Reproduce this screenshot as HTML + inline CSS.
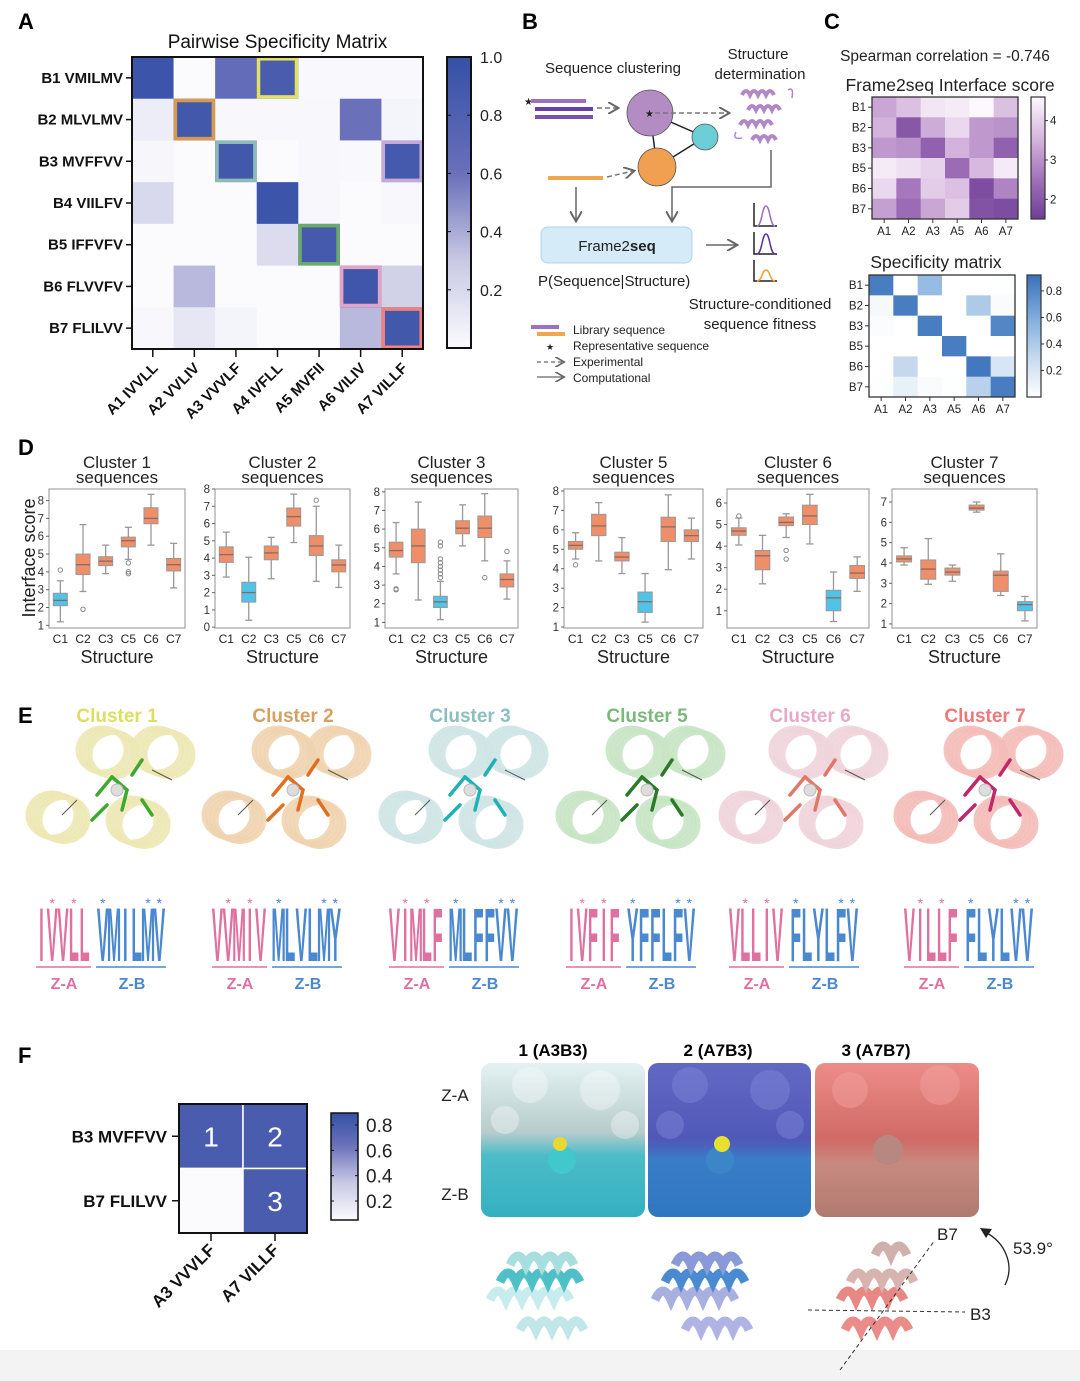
<!DOCTYPE html>
<html><head><meta charset="utf-8">
<style>
html,body{margin:0;padding:0;background:#fff;}
svg{display:block;font-family:"Liberation Sans",sans-serif;}
</style></head>
<body>
<svg id="fig" width="1080" height="1381" viewBox="0 0 1080 1381" xmlns="http://www.w3.org/2000/svg">
<defs>
<linearGradient id="gA" x1="0" y1="1" x2="0" y2="0"><stop offset="0" stop-color="#fbfbfe"/><stop offset="0.3" stop-color="#c8c8e4"/><stop offset="0.6" stop-color="#6a70ba"/><stop offset="1" stop-color="#3550a6"/></linearGradient>
<linearGradient id="gCt" x1="0" y1="0" x2="0" y2="1"><stop offset="0" stop-color="#fdf8fd"/><stop offset="0.35" stop-color="#d4b4dc"/><stop offset="0.68" stop-color="#a070b8"/><stop offset="1" stop-color="#6e3e98"/></linearGradient>
<linearGradient id="gCb" x1="0" y1="1" x2="0" y2="0"><stop offset="0" stop-color="#ffffff"/><stop offset="0.33" stop-color="#c4d8ee"/><stop offset="0.6" stop-color="#8ab4e0"/><stop offset="1" stop-color="#3a70ba"/></linearGradient>
<linearGradient id="gF" x1="0" y1="1" x2="0" y2="0"><stop offset="0" stop-color="#fbfbfe"/><stop offset="0.35" stop-color="#c8c8e4"/><stop offset="0.7" stop-color="#6a70ba"/><stop offset="1" stop-color="#3550a6"/></linearGradient>
<linearGradient id="img1" x1="0" y1="0" x2="0" y2="1"><stop offset="0" stop-color="#e4f2f2"/><stop offset="0.45" stop-color="#b8cccc"/><stop offset="0.6" stop-color="#4cbcc8"/><stop offset="1" stop-color="#34b0c0"/></linearGradient>
<linearGradient id="img2" x1="0" y1="0" x2="0" y2="1"><stop offset="0" stop-color="#6268c4"/><stop offset="0.5" stop-color="#5058b8"/><stop offset="0.62" stop-color="#3a7cc8"/><stop offset="1" stop-color="#2e78c0"/></linearGradient>
<linearGradient id="img3" x1="0" y1="0" x2="0" y2="1"><stop offset="0" stop-color="#ec8c88"/><stop offset="0.5" stop-color="#d06a66"/><stop offset="0.65" stop-color="#c88a80"/><stop offset="1" stop-color="#b07a70"/></linearGradient>
<marker id="arr" markerWidth="8" markerHeight="8" refX="6" refY="4" orient="auto"><path d="M0,0 L7,4 L0,8" fill="none" stroke="#666" stroke-width="1.3"/></marker>
</defs>
<rect x="0" y="1350" width="1080" height="31" fill="#f3f3f3"/>

<g font-weight="bold" font-size="22" fill="#000">
<text x="18" y="29">A</text>
<text x="522" y="29">B</text>
<text x="824" y="29">C</text>
<text x="18" y="455">D</text>
<text x="18" y="723">E</text>
<text x="18" y="1063">F</text>
</g>

<g fill="#222" font-size="15">
<text x="613" y="73" text-anchor="middle">Sequence clustering</text>
<text x="758" y="59" text-anchor="middle">Structure</text>
<text x="760" y="79" text-anchor="middle">determination</text>
<text x="524" y="105" font-size="10">★</text>
<line x1="531" y1="101" x2="586" y2="101" stroke="#a070c0" stroke-width="4"/>
<line x1="535" y1="109" x2="593" y2="109" stroke="#6a40a8" stroke-width="4"/>
<line x1="535" y1="117" x2="593" y2="117" stroke="#7a50b0" stroke-width="4"/>
<line x1="597" y1="108" x2="617" y2="108" stroke="#777" stroke-width="1.5" stroke-dasharray="5,3" marker-end="url(#arr)"/>
<line x1="650" y1="113" x2="705" y2="137" stroke="#222" stroke-width="1.5"/>
<line x1="650" y1="113" x2="657" y2="167" stroke="#222" stroke-width="1.5"/>
<line x1="705" y1="137" x2="657" y2="167" stroke="#222" stroke-width="1.5"/>
<circle cx="650" cy="113" r="23" fill="#b48cc4" stroke="#555" stroke-width="0.8"/>
<circle cx="705" cy="137" r="13" fill="#6ccfd8" stroke="#555" stroke-width="0.8"/>
<circle cx="657" cy="167" r="19" fill="#f0a050" stroke="#555" stroke-width="0.8"/>
<text x="645" y="117" font-size="10">★</text>
<line x1="655" y1="113" x2="728" y2="113" stroke="#777" stroke-width="1.5" stroke-dasharray="5,3" marker-end="url(#arr)"/>
<g fill="none" stroke="#b088c8" stroke-width="4">
<path d="M742,95 q4,-8 8,0 q4,-8 8,0 q4,-8 8,0 q4,-8 8,0"/>
<path d="M748,110 q4,-8 8,0 q4,-8 8,0 q4,-8 8,0 q4,-8 8,0"/>
<path d="M740,125 q4,-8 8,0 q4,-8 8,0 q4,-8 8,0 q4,-8 8,0"/>
<path d="M752,140 q4,-8 8,0 q4,-8 8,0 q4,-8 8,0"/>
<path d="M788,90 q6,-4 4,8 M736,132 q-4,8 6,6" stroke-width="1.5"/>
</g>
<line x1="548" y1="178" x2="603" y2="178" stroke="#f0a850" stroke-width="4"/>
<line x1="607" y1="177" x2="633" y2="171" stroke="#777" stroke-width="1.5" stroke-dasharray="5,3" marker-end="url(#arr)"/>
<polyline points="771,150 771,187 672,187 672,220" fill="none" stroke="#666" stroke-width="1.5" marker-end="url(#arr)"/>
<line x1="576" y1="187" x2="576" y2="220" stroke="#666" stroke-width="1.5" marker-end="url(#arr)"/>
<rect x="541" y="227" width="151" height="36" rx="7" fill="#d6ebf8" stroke="#b0d0ea"/>
<text x="617" y="251" text-anchor="middle" font-size="15">Frame2<tspan font-weight="bold">seq</tspan></text>
<text x="538" y="286" font-size="15">P(Sequence|Structure)</text>
<line x1="706" y1="245" x2="736" y2="245" stroke="#666" stroke-width="1.5" marker-end="url(#arr)"/>
<g fill="none" stroke-width="1.5">
<polyline points="754,203 754,226 777,226" stroke="#222"/><path d="M757,226 C762,226 762,206 766,206 C770,206 770,226 775,226" stroke="#a070c0"/>
<polyline points="754,232 754,254 777,254" stroke="#222"/><path d="M757,254 C762,254 762,234 766,234 C770,234 770,254 775,254" stroke="#5a30a0"/>
<polyline points="754,260 754,281 777,281" stroke="#222"/><path d="M757,281 C762,281 762,270 766,270 C770,270 770,281 775,281" stroke="#f0a030"/>
</g>
<text x="760" y="309" text-anchor="middle">Structure-conditioned</text>
<text x="760" y="329" text-anchor="middle">sequence fitness</text>
<g font-size="12">
<line x1="531" y1="327" x2="559" y2="327" stroke="#a070c0" stroke-width="4"/>
<line x1="537" y1="334" x2="565" y2="334" stroke="#f0a850" stroke-width="4"/>
<text x="573" y="334">Library sequence</text>
<text x="546" y="350" font-size="9">★</text>
<text x="573" y="350">Representative sequence</text>
<line x1="537" y1="362" x2="563" y2="362" stroke="#666" stroke-width="1.3" stroke-dasharray="4,3" marker-end="url(#arr)"/>
<text x="573" y="366">Experimental</text>
<line x1="537" y1="377" x2="563" y2="377" stroke="#666" stroke-width="1.3" marker-end="url(#arr)"/>
<text x="573" y="382">Computational</text>
</g>
</g>

<g font-size="17">
<text x="553" y="1056" text-anchor="middle" font-weight="bold">1 (A3B3)</text>
<text x="718" y="1056" text-anchor="middle" font-weight="bold">2 (A7B3)</text>
<text x="876" y="1056" text-anchor="middle" font-weight="bold">3 (A7B7)</text>
<text x="455" y="1101" text-anchor="middle" fill="#222">Z-A</text>
<text x="455" y="1200" text-anchor="middle" fill="#222">Z-B</text>
<rect x="481" y="1063" width="164" height="154" rx="10" fill="url(#img1)"/>
<g fill="#ffffff" opacity="0.35"><circle cx="530" cy="1085" r="18"/><circle cx="600" cy="1090" r="20"/><circle cx="505" cy="1120" r="14"/><circle cx="625" cy="1125" r="14"/></g>
<circle cx="562" cy="1160" r="14" fill="#40c8cc"/>
<circle cx="560" cy="1144" r="7" fill="#e8d830"/>
<rect x="648" y="1063" width="163" height="154" rx="10" fill="url(#img2)"/>
<g fill="#8088d8" opacity="0.45"><circle cx="690" cy="1085" r="18"/><circle cx="770" cy="1090" r="20"/><circle cx="670" cy="1125" r="14"/><circle cx="790" cy="1125" r="14"/></g>
<circle cx="720" cy="1160" r="14" fill="#3a86c8"/>
<circle cx="722" cy="1144" r="8" fill="#e8e030"/>
<rect x="815" y="1063" width="164" height="154" rx="10" fill="url(#img3)"/>
<g fill="#f4a4a0" opacity="0.45"><circle cx="850" cy="1090" r="18"/><circle cx="940" cy="1085" r="20"/></g>
<circle cx="888" cy="1150" r="15" fill="#b88880"/>
<g fill="none" stroke-width="9">
<path d="M490,1300 q8,-18 16,0 q8,-18 16,0 q8,-18 16,0 q8,-18 16,0 q8,-18 16,0" stroke="#c8ecec"/>
<path d="M500,1282 q8,-18 16,0 q8,-18 16,0 q8,-18 16,0 q8,-18 16,0 q8,-18 16,0" stroke="#50c0c8"/>
<path d="M510,1265 q8,-18 16,0 q8,-18 16,0 q8,-18 16,0 q8,-18 16,0" stroke="#a8dede"/>
<path d="M520,1330 q8,-18 16,0 q8,-18 16,0 q8,-18 16,0 q8,-18 16,0" stroke="#c0e6e8"/>
<path d="M655,1300 q8,-18 16,0 q8,-18 16,0 q8,-18 16,0 q8,-18 16,0 q8,-18 16,0" stroke="#a8b0e0"/>
<path d="M665,1282 q8,-18 16,0 q8,-18 16,0 q8,-18 16,0 q8,-18 16,0 q8,-18 16,0" stroke="#4a8ad0"/>
<path d="M675,1265 q8,-18 16,0 q8,-18 16,0 q8,-18 16,0 q8,-18 16,0" stroke="#8a9ad8"/>
<path d="M685,1330 q8,-18 16,0 q8,-18 16,0 q8,-18 16,0 q8,-18 16,0" stroke="#b0b4e4"/>
<path d="M840,1300 q8,-18 16,0 q8,-18 16,0 q8,-18 16,0 q8,-18 16,0" stroke="#e88884"/>
<path d="M850,1282 q8,-18 16,0 q8,-18 16,0 q8,-18 16,0 q8,-18 16,0" stroke="#d8b4b0"/>
<path d="M845,1330 q8,-18 16,0 q8,-18 16,0 q8,-18 16,0 q8,-18 16,0" stroke="#ec8c88"/>
<path d="M875,1255 q8,-18 16,0 q8,-18 16,0" stroke="#d0b0ac"/>
</g>
<line x1="808" y1="1310" x2="965" y2="1312" stroke="#333" stroke-width="1" stroke-dasharray="4,3"/>
<line x1="840" y1="1370" x2="935" y2="1240" stroke="#333" stroke-width="1" stroke-dasharray="4,3"/>
<text x="937" y="1240" fill="#222">B7</text>
<text x="970" y="1320" fill="#222">B3</text>
<path d="M1005,1285 C1015,1265 1005,1242 985,1232" fill="none" stroke="#222" stroke-width="1.3"/>
<path d="M980,1228 L992,1229 L986,1238 Z" fill="#222"/>
<text x="1013" y="1254" fill="#222">53.9°</text>
</g>
</svg>

<script>
const NS='http://www.w3.org/2000/svg';
const svg=document.getElementById('fig');
function mk(tag,attrs,name,parent){
  const e=document.createElementNS(NS,tag);
  for(const k in attrs) e.setAttribute(k,attrs[k]);
  
  
  (parent||svg).appendChild(e);
  return e;
}
function txt(x,y,s,attrs,name,parent){const e=mk('text',Object.assign({x:x,y:y},attrs||{}),name,parent);e.textContent=s;return e;}
function hex(c){return [1,3,5].map(i=>parseInt(c.substr(i,2),16));}
function lerpStops(stops,t){t=Math.max(0,Math.min(1,t));for(let i=1;i<stops.length;i++){if(t<=stops[i][0]){const a=stops[i-1],b=stops[i];const u=(t-a[0])/(b[0]-a[0]);const ca=hex(a[1]),cb=hex(b[1]);return 'rgb('+ca.map((v,k)=>Math.round(v+(cb[k]-v)*u)).join(',')+')';}}return stops[stops.length-1][1];}

/* ---------- Panel A ---------- */
const aRows=['B1 VMILMV','B2 MLVLMV','B3 MVFFVV','B4 VIILFV','B5 IFFVFV','B6 FLVVFV','B7 FLILVV'];
const aCols=['A1 IVVLL','A2 VVLIV','A3 VVVLF','A4 IVFLL','A5 MVFII','A6 VILIV','A7 VILLF'];
const aVals=[
 [0.95,0.00,0.65,0.85,0.01,0.01,0.01],
 [0.08,0.90,0.02,0.02,0.02,0.60,0.04],
 [0.03,0.00,0.90,0.00,0.02,0.01,0.88],
 [0.20,0.00,0.00,0.95,0.02,0.00,0.02],
 [0.00,0.00,0.00,0.18,0.88,0.00,0.00],
 [0.00,0.35,0.00,0.00,0.00,0.92,0.25],
 [0.02,0.12,0.04,0.00,0.00,0.35,0.90]];
const aHighlights=[[0,3,'#e2e262'],[1,1,'#d49a50'],[2,2,'#8cbcb8'],[2,6,'#c4aad8'],[4,4,'#6aaa6a'],[5,5,'#e4a4c4'],[6,6,'#f08080']];
const aTicks=[0.2,0.4,0.6,0.8,1.0];
const blueStops=[[0,'#fbfbfe'],[0.3,'#c8c8e4'],[0.6,'#6a70ba'],[1,'#3550a6']];
(function(){
  const X0=132,Y0=57,W=291,H=292,cw=W/7,ch=H/7;
  const g=mk('g',{},'pairwise-specificity-matrix');
  txt(X0+W/2,48,'Pairwise Specificity Matrix',{'text-anchor':'middle','font-size':19,fill:'#111'},'matrix-title',g);
  aVals.forEach((row,i)=>row.forEach((v,j)=>{
    mk('rect',{x:X0+j*cw,y:Y0+i*ch,width:cw+0.5,height:ch+0.5,fill:lerpStops(blueStops,v)},'cell-'+aRows[i].split(' ')[0]+'-'+aCols[j].split(' ')[0],g);
  }));
  aHighlights.forEach(h=>{mk('rect',{x:X0+h[1]*cw+1.8,y:Y0+h[0]*ch+1.8,width:cw-3.6,height:ch-3.6,fill:'none',stroke:h[2],'stroke-width':3.5},'highlight-box',g);});
  mk('rect',{x:X0,y:Y0,width:W,height:H,fill:'none',stroke:'#111','stroke-width':2},'matrix-frame',g);
  aRows.forEach((s,i)=>{const y=Y0+(i+0.5)*ch;
    mk('line',{x1:X0-6,y1:y,x2:X0,y2:y,stroke:'#111','stroke-width':1.5},'y-tick',g);
    txt(X0-9,y+5,s,{'text-anchor':'end','font-size':15,'font-weight':'bold',fill:'#111'},'row-label',g);});
  aCols.forEach((s,j)=>{const x=X0+(j+0.5)*cw;
    mk('line',{x1:x,y1:Y0+H,x2:x,y2:Y0+H+8,stroke:'#111','stroke-width':1.5},'x-tick',g);
    txt(0,0,s,{'text-anchor':'end','font-size':15,'font-weight':'bold',fill:'#111',transform:'translate('+(x+6)+','+(Y0+H+20)+') rotate(-45)'},'col-label',g);});
  const cx=447,cy=57,cwid=24,chgt=291;
  mk('rect',{x:cx,y:cy,width:cwid,height:chgt,fill:'url(#gA)',stroke:'#111','stroke-width':2},'colorbar-a',g);
  aTicks.forEach(t=>{const y=cy+chgt*(1-t);
    if(t<1){mk('line',{x1:cx,y1:y,x2:cx+4,y2:y,stroke:'#111'},'cbar-tick',g);mk('line',{x1:cx+cwid-4,y1:y,x2:cx+cwid,y2:y,stroke:'#111'},'cbar-tick',g);}
    txt(cx+cwid+9,y+6,t.toFixed(1),{'font-size':16,fill:'#222'},'cbar-label',g);});
})();

/* ---------- Panel C ---------- */
const cRows=['B1','B2','B3','B5','B6','B7'];
const cCols=['A1','A2','A3','A5','A6','A7'];
const cScore=[
 [3.3,3.7,4.3,4.4,4.6,3.7],
 [3.5,2.0,3.4,4.1,3.1,3.0],
 [3.1,3.0,2.2,3.5,3.1,2.2],
 [4.4,4.2,4.0,2.4,3.6,4.4],
 [4.1,2.6,3.9,3.7,1.8,2.8],
 [3.2,2.4,3.3,3.9,1.9,1.8]];
const cScoreTicks=[2,3,4];
const cSpec=[
 [0.85,0.00,0.50,0.00,0.00,0.01],
 [0.05,0.85,0.00,0.00,0.40,0.03],
 [0.02,0.00,0.85,0.00,0.00,0.80],
 [0.00,0.00,0.00,0.85,0.00,0.00],
 [0.00,0.30,0.00,0.00,0.88,0.20],
 [0.01,0.12,0.03,0.01,0.35,0.85]];
const cSpecTicks=[0.2,0.4,0.6,0.8];
const purpStops=[[0,'#fdf8fd'],[0.35,'#d4b4dc'],[0.68,'#a070b8'],[1,'#6e3e98']];
const cbStops=[[0,'#ffffff'],[0.33,'#c4d8ee'],[0.6,'#8ab4e0'],[1,'#3a70ba']];
function smallHeat(X0,Y0,W,H,vals,colorFn,name,cb){
  const g=mk('g',{},name);const cw=W/6,ch=H/6;
  vals.forEach((row,i)=>row.forEach((v,j)=>{mk('rect',{x:X0+j*cw,y:Y0+i*ch,width:cw+0.4,height:ch+0.4,fill:colorFn(v)},'cell-'+cRows[i]+'-'+cCols[j],g);}));
  mk('rect',{x:X0,y:Y0,width:W,height:H,fill:'none',stroke:'#333','stroke-width':1.3},'heat-frame',g);
  cRows.forEach((s,i)=>{const y=Y0+(i+0.5)*ch;mk('line',{x1:X0-4,y1:y,x2:X0,y2:y,stroke:'#333'},'y-tick',g);txt(X0-6,y+4,s,{'text-anchor':'end','font-size':11.5,fill:'#222'},'row-label',g);});
  cCols.forEach((s,j)=>{const x=X0+(j+0.5)*cw;mk('line',{x1:x,y1:Y0+H,x2:x,y2:Y0+H+4,stroke:'#333'},'x-tick',g);txt(x,Y0+H+16,s,{'text-anchor':'middle','font-size':11.5,fill:'#222'},'col-label',g);});
  mk('rect',{x:cb.x,y:Y0,width:14,height:H,fill:cb.fill,stroke:'#333','stroke-width':1.2},'colorbar',g);
  cb.ticks.forEach(t=>{const y=cb.yOf(t);mk('line',{x1:cb.x+14,y1:y,x2:cb.x+17,y2:y,stroke:'#333'},'cbar-tick',g);txt(cb.x+19,y+4,cb.fmt(t),{'font-size':11.5,fill:'#222'},'cbar-label',g);});
  return g;
}
txt(945,61,'Spearman correlation = -0.746',{'text-anchor':'middle','font-size':15.5,fill:'#222'},'spearman-label');
txt(950,91,'Frame2seq Interface score',{'text-anchor':'middle','font-size':17.5,fill:'#222'},'frame2seq-score-title');
smallHeat(872,97,146,122,cScore,v=>lerpStops(purpStops,(4.6-v)/3.1),'frame2seq-heatmap',{x:1031,fill:'url(#gCt)',ticks:cScoreTicks,yOf:t=>97+(4.6-t)/3.1*122,fmt:t=>String(t)});
txt(936,268,'Specificity matrix',{'text-anchor':'middle','font-size':17.5,fill:'#222'},'specificity-matrix-title');
smallHeat(869,275,146,122,cSpec,v=>lerpStops(cbStops,v/0.92),'specificity-heatmap',{x:1027,fill:'url(#gCb)',ticks:cSpecTicks,yOf:t=>397-t/0.92*122,fmt:t=>t.toFixed(1)});

/* ---------- Panel D ---------- */
const dStructs=['C1','C2','C3','C5','C6','C7'];
const dTitles=['Cluster 1','Cluster 2','Cluster 3','Cluster 5','Cluster 6','Cluster 7'];
const dBoxes1=[[1.2,2.1,2.4,2.8,3.5],[2.9,3.85,4.4,5.0,6.65],[3.9,4.35,4.6,4.85,5.5],[4.7,5.4,5.75,5.95,6.5],[5.5,6.7,7.0,7.6,8.35],[3.1,4.05,4.4,4.75,5.6]];
const dOut1=[[4.1],[1.9],[],[4.5,4.0,3.9],[],[]];
const dBoxes2=[[2.9,3.75,4.2,4.65,5.5],[0.4,1.45,2.0,2.6,4.05],[2.8,3.9,4.3,4.7,5.2],[4.9,5.85,6.4,6.9,7.7],[2.65,4.15,4.7,5.3,7.0],[2.3,3.2,3.6,3.9,4.75]];
const dOut2=[[],[],[],[],[7.35],[]];
const dBoxes3=[[3.6,4.5,4.85,5.3,6.35],[2.2,4.2,5.1,6.0,7.45],[1.15,1.8,2.1,2.4,3.2],[5.1,5.75,6.05,6.45,7.3],[4.3,5.55,6.05,6.7,7.9],[2.25,2.9,3.3,3.6,4.3]];
const dOut3=[[2.8,2.75],[],[3.4,3.6,3.8,4.0,4.2,4.4,5.1,5.3],[],[3.4],[4.8]];
const dBoxes5=[[4.5,5.0,5.2,5.4,5.85],[4.4,5.7,6.2,6.8,7.4],[3.75,4.4,4.6,4.85,5.6],[1.25,1.75,2.3,2.8,3.75],[3.95,5.4,6.15,6.65,7.8],[4.5,5.4,5.7,6.0,6.6]];
const dOut5=[[4.2],[],[],[],[],[]];
const dBoxes6=[[4.05,4.5,4.7,4.85,5.3],[2.25,2.9,3.55,3.8,4.5],[4.4,4.95,5.1,5.35,5.5],[4.1,5.0,5.4,5.9,6.4],[0.5,1.0,1.6,1.95,2.8],[1.9,2.5,2.75,3.1,3.5]];
const dOut6=[[5.4],[],[3.8,3.4],[],[],[]];
const dBoxes7=[[3.9,4.05,4.2,4.35,4.75],[2.95,3.2,3.7,4.15,5.2],[3.1,3.4,3.55,3.75,3.9],[6.5,6.6,6.7,6.85,7.0],[2.4,2.6,3.4,3.6,4.45],[1.15,1.65,1.95,2.1,2.35]];
const dOut7=[[],[],[],[],[],[]];
const dTicks1=[1,2,3,4,5,6,7,8], dTicks2=[0,1,2,3,4,5,6,7,8], dTicks3=[1,2,3,4,5,6,7,8], dTicks5=[1,2,3,4,5,6,7,8], dTicks6=[1,2,3,4,5,6], dTicks7=[1,2,3,4,5,6,7];
const dDomains=[[0.85,8.65],[-0.05,8.0],[0.7,8.15],[0.95,8.1],[0.2,6.65],[0.8,7.64]];
const dSelf=[0,1,2,3,4,5];
const dLefts=[49,215,385,564,727,892], dRights=[185,350,518,703,869,1037];
const dAllBoxes=[dBoxes1,dBoxes2,dBoxes3,dBoxes5,dBoxes6,dBoxes7];
const dAllOut=[dOut1,dOut2,dOut3,dOut5,dOut6,dOut7];
const dAllTicks=[dTicks1,dTicks2,dTicks3,dTicks5,dTicks6,dTicks7];
(function(){
  const T=489,B=628;
  txt(0,0,'Interface score',{'text-anchor':'middle','font-size':18,fill:'#222',transform:'translate(35,558) rotate(-90)'},'y-axis-title');
  for(let p=0;p<6;p++){
    const g=mk('g',{},'boxplot-'+dTitles[p].toLowerCase().replace(' ','-'));
    const L=dLefts[p],R=dRights[p],dom=dDomains[p];
    const y=v=>B-(v-dom[0])/(dom[1]-dom[0])*(B-T);
    const band=(R-L)/6,bw=band*0.62;
    const cxm=(L+R)/2;
    txt(cxm,468,dTitles[p],{'text-anchor':'middle','font-size':17,fill:'#222'},'subplot-title',g);
    txt(cxm,483,'sequences',{'text-anchor':'middle','font-size':17,fill:'#222'},'subplot-title-2',g);
    mk('rect',{x:L,y:T,width:R-L,height:B-T,fill:'none',stroke:'#aaa','stroke-width':1.3},'axes-frame',g);
    dAllTicks[p].forEach(t=>{const yy=y(t);mk('line',{x1:L-3,y1:yy,x2:L,y2:yy,stroke:'#666'},'y-tick',g);txt(L-5,yy+4,String(t),{'text-anchor':'end','font-size':11.5,fill:'#333'},'y-tick-label',g);});
    dAllBoxes[p].forEach((b,i)=>{
      const x=L+band*(i+0.5);
      const col=i===dSelf[p]?'#4fc3e8':'#ee8f6a';
      mk('line',{x1:x,y1:y(b[0]),x2:x,y2:y(b[1]),stroke:'#999','stroke-width':1.3},'whisker-low',g);
      mk('line',{x1:x,y1:y(b[3]),x2:x,y2:y(b[4]),stroke:'#999','stroke-width':1.3},'whisker-high',g);
      mk('line',{x1:x-bw/4,y1:y(b[0]),x2:x+bw/4,y2:y(b[0]),stroke:'#999','stroke-width':1.3},'cap-low',g);
      mk('line',{x1:x-bw/4,y1:y(b[4]),x2:x+bw/4,y2:y(b[4]),stroke:'#999','stroke-width':1.3},'cap-high',g);
      mk('rect',{x:x-bw/2,y:y(b[3]),width:bw,height:y(b[1])-y(b[3]),fill:col,stroke:'#999','stroke-width':1},'box-'+dStructs[i],g);
      mk('line',{x1:x-bw/2,y1:y(b[2]),x2:x+bw/2,y2:y(b[2]),stroke:'#8a6a60','stroke-width':1.3},'median-'+dStructs[i],g);
      dAllOut[p][i].forEach(o=>{mk('circle',{cx:x,cy:y(o),r:2.2,fill:'none',stroke:'#888','stroke-width':1},'outlier',g);});
      txt(x,B+15,dStructs[i],{'text-anchor':'middle','font-size':12,fill:'#222'},'x-tick-label',g);
    });
    txt(cxm,663,'Structure',{'text-anchor':'middle','font-size':18,fill:'#222'},'x-axis-title',g);
  }
})();

/* ---------- Panel E ---------- */
const eTitles=['Cluster 1','Cluster 2','Cluster 3','Cluster 5','Cluster 6','Cluster 7'];
const eTitleColors=['#dede60','#d8a060','#8cc0c0','#7cb87c','#e8a8c8','#f07878'];
const eHelixColors=['#ece8b4','#f0d4b0','#cfe4e4','#c8e4c4','#f0d4dc','#f4bcb8'];
const eStickColors=['#40a830','#e07020','#20b0b8','#2a7a2a','#e07868','#c02868'];
const eCenters=[117,293,470,647,810,985];
const eZA=['IVVLL','VVMIV','VIMLF','IVFIF','VLLIV','VILLF'];
const eZB=['VMILMV','MLVLMY','MLFFVV','YFFLFV','FLYLFV','FLYLVV'];
(function(){
  for(let c=0;c<6;c++){
    const g=mk('g',{},'cluster-panel-'+(c+1));
    const cx=eCenters[c];
    txt(cx,722,eTitles[c],{'text-anchor':'middle','font-size':19,'font-weight':'bold',fill:eTitleColors[c]},'cluster-title',g);
    const hel=[[-15,-45],[40,-45],[-65,20],[15,25]];
    hel.forEach(h=>{for(let k=0;k<4;k++){mk('ellipse',{cx:cx+h[0]+k*4,cy:795+h[1]+k*1.5,rx:24,ry:22,fill:'none',stroke:eHelixColors[c],'stroke-width':5,opacity:0.9},'helix-ring',g);}});
    const sp=[[-20,0,-5,-18],[-5,-18,10,-5],[10,-5,5,15],[-10,10,-25,25],[15,-20,25,-35],[25,5,35,20]];
    sp.forEach(s=>{mk('line',{x1:cx+s[0],y1:795+s[1],x2:cx+s[2],y2:795+s[3],stroke:eStickColors[c],'stroke-width':3.5,'stroke-linecap':'round'},'side-chain',g);});
    mk('line',{x1:cx+35,y1:770,x2:cx+55,y2:780,stroke:'#555','stroke-width':1},'side-chain-thin',g);
    mk('line',{x1:cx-40,y1:800,x2:cx-55,y2:815,stroke:'#555','stroke-width':1},'side-chain-thin',g);
    mk('circle',{cx:cx,cy:790,r:6,fill:'#ddd',stroke:'#bbb'},'center-atom',g);
    const base=cx-81;
    const la=eZA[c],lb=eZB[c];
    const wA=54/la.length,wB=68/lb.length;
    for(let k=0;k<la.length;k++){
      txt(0,0,la[k],{'font-size':20,'font-weight':'bold',fill:'#e070a0','text-anchor':'middle',transform:'translate('+(base+wA*(k+0.5))+',961) scale('+(wA/13)+',3.8)'},'logo-letter-za',g);
    }
    for(let k=0;k<lb.length;k++){
      txt(0,0,lb[k],{'font-size':20,'font-weight':'bold',fill:'#4a88d0','text-anchor':'middle',transform:'translate('+(base+61+wB*(k+0.5))+',961) scale('+(wB/13)+',3.8)'},'logo-letter-zb',g);
    }
    txt(base+wA*1.5,908,'*',{'font-size':14,fill:'#e070a0','text-anchor':'middle'},'star',g);
    txt(base+wA*3.5,908,'*',{'font-size':14,fill:'#e070a0','text-anchor':'middle'},'star',g);
    txt(base+61+wB*0.5,908,'*',{'font-size':14,fill:'#4a88d0','text-anchor':'middle'},'star',g);
    txt(base+61+wB*4.5,908,'*',{'font-size':14,fill:'#4a88d0','text-anchor':'middle'},'star',g);
    txt(base+61+wB*5.5,908,'*',{'font-size':14,fill:'#4a88d0','text-anchor':'middle'},'star',g);
    mk('line',{x1:base,y1:967,x2:base+55,y2:967,stroke:'#e070a0','stroke-width':1.5},'za-underline',g);
    mk('line',{x1:base+60,y1:967,x2:base+130,y2:967,stroke:'#4a88d0','stroke-width':1.5},'zb-underline',g);
    txt(base+28,989,'Z-A',{'text-anchor':'middle','font-size':16,'font-weight':'bold',fill:'#e070a0'},'za-label',g);
    txt(base+96,989,'Z-B',{'text-anchor':'middle','font-size':16,'font-weight':'bold',fill:'#4a88d0'},'zb-label',g);
  }
})();

/* ---------- Panel F heatmap ---------- */
const fRows=['B3 MVFFVV','B7 FLILVV'];
const fCols=['A3 VVVLF','A7 VILLF'];
const fVals=[[0.85,0.85],[0.0,0.85]];
const fNums=[['1','2'],['','3']];
const fTicks=[0.2,0.4,0.6,0.8];
(function(){
  const X0=179,Y0=1104,W=128,H=129,cw=W/2,ch=H/2;
  const g=mk('g',{},'panel-f-heatmap');
  fVals.forEach((row,i)=>row.forEach((v,j)=>{
    mk('rect',{x:X0+j*cw,y:Y0+i*ch,width:cw,height:ch,fill:lerpStops(blueStops,v),stroke:'#fff','stroke-width':1.5},'cell-'+fRows[i].split(' ')[0]+'-'+fCols[j].split(' ')[0],g);
    if(fNums[i][j])txt(X0+(j+0.5)*cw,Y0+(i+0.5)*ch+10,fNums[i][j],{'text-anchor':'middle','font-size':28,fill:'#fff'},'cell-number',g);
  }));
  mk('rect',{x:X0,y:Y0,width:W,height:H,fill:'none',stroke:'#111','stroke-width':2},'heat-frame',g);
  fRows.forEach((s,i)=>{const y=Y0+(i+0.5)*ch;mk('line',{x1:X0-7,y1:y,x2:X0,y2:y,stroke:'#111','stroke-width':1.5},'y-tick',g);txt(X0-12,y+6,s,{'text-anchor':'end','font-size':17,'font-weight':'bold',fill:'#111'},'row-label',g);});
  fCols.forEach((s,j)=>{const x=X0+(j+0.5)*cw;mk('line',{x1:x,y1:Y0+H,x2:x,y2:Y0+H+8,stroke:'#111','stroke-width':1.5},'x-tick',g);txt(0,0,s,{'text-anchor':'end','font-size':17,'font-weight':'bold',fill:'#111',transform:'translate('+(x+5)+','+(Y0+H+18)+') rotate(-45)'},'col-label',g);});
  const cx=331,cy=1113,cw2=27,chh=107;
  mk('rect',{x:cx,y:cy,width:cw2,height:chh,fill:'url(#gF)',stroke:'#111','stroke-width':1.5},'colorbar-f',g);
  fTicks.forEach(t=>{
    const yy=1201-(t-0.2)/0.6*76;
    mk('line',{x1:cx,y1:yy,x2:cx+3,y2:yy,stroke:'#111'},'cbar-tick',g);mk('line',{x1:cx+cw2-3,y1:yy,x2:cx+cw2,y2:yy,stroke:'#111'},'cbar-tick',g);
    txt(cx+cw2+8,yy+7,t.toFixed(1),{'font-size':19,fill:'#222'},'cbar-label',g);});
})();
</script>
</body></html>
